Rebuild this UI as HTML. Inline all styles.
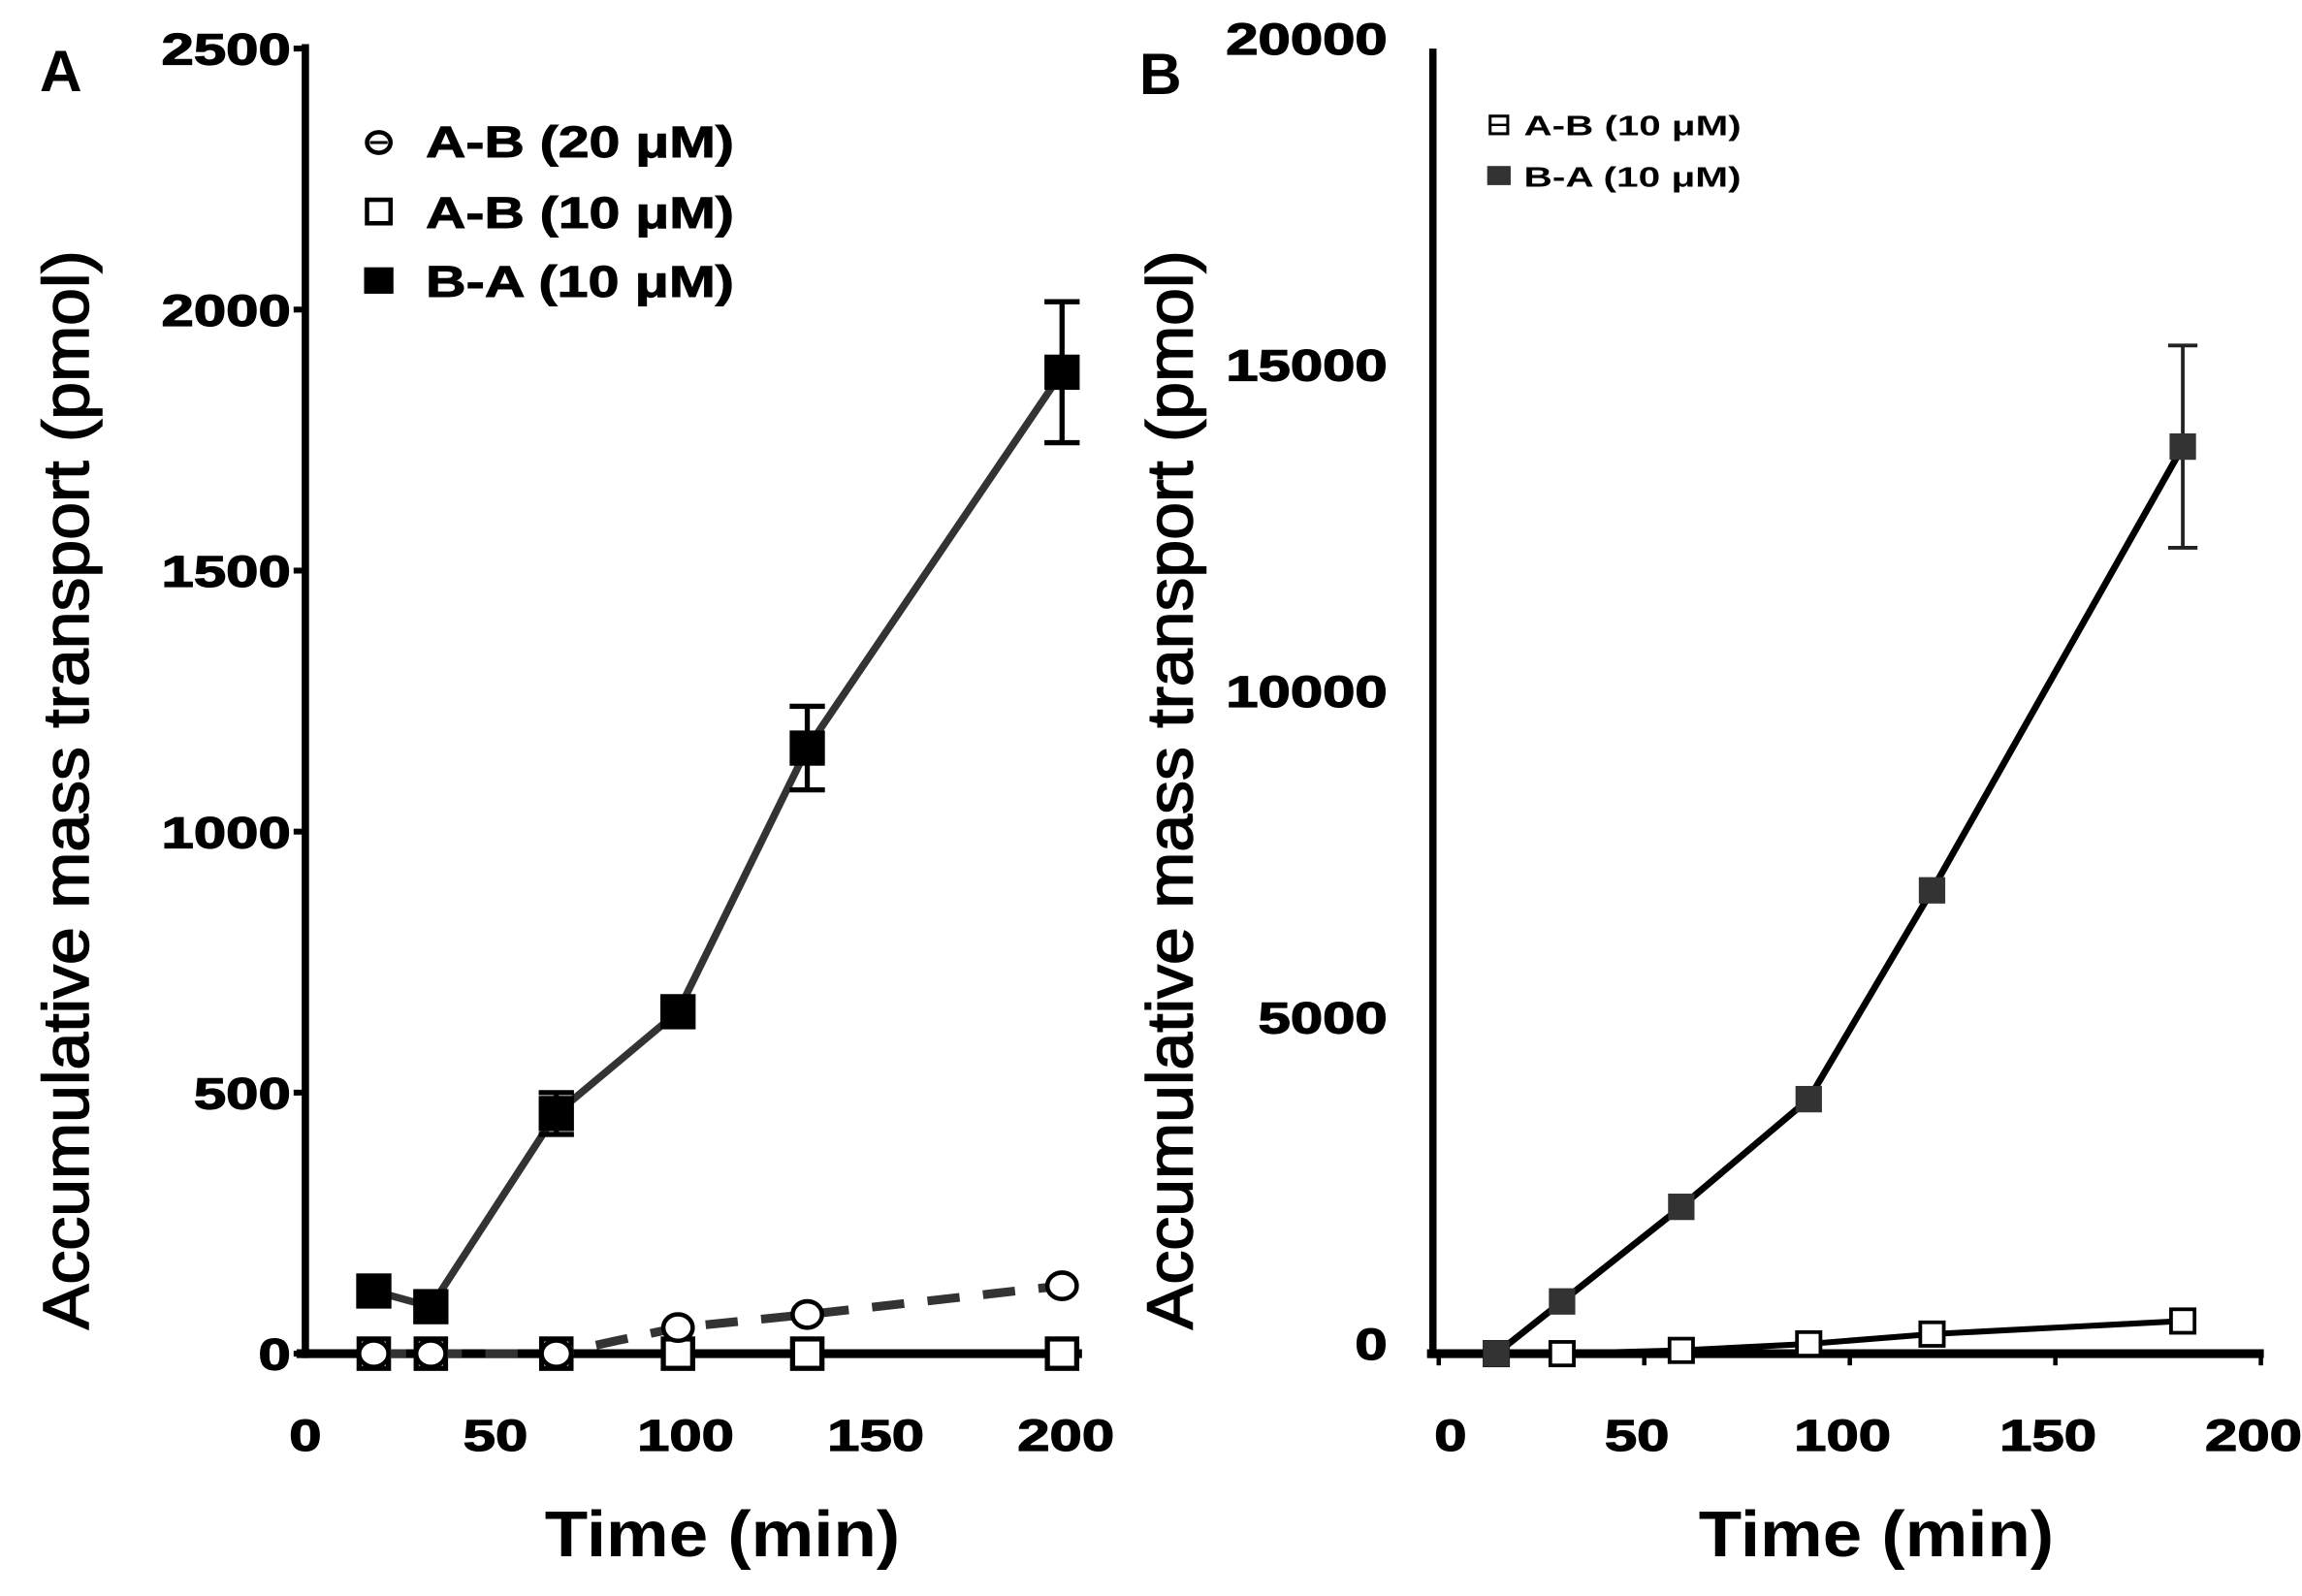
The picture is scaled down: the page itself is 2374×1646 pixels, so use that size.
<!DOCTYPE html>
<html><head><meta charset="utf-8"><style>
html,body{margin:0;padding:0;background:#fff;}
svg{display:block;}
text{font-family:"Liberation Sans",sans-serif;font-weight:bold;fill:#000;}
</style></head><body>
<svg id="chart" width="2374" height="1646" viewBox="0 0 1568 1087" xmlns="http://www.w3.org/2000/svg">
<g id="gA"></g>
<g id="gB"></g>
</svg>
<script>
// Panel A data
const timeA = [18, 33, 66, 98, 132, 199];
const baA = [120, 90, 460, 655, 1160, 1880];
const baErrA = [0, 0, 40, 0, 80, 135];
const ab20A = [0, 0, 0, 50, 75, 130];
const ab10A = [0, 0, 0, 0, 0, 0];
const yTicksA = [0, 500, 1000, 1500, 2000, 2500];
const xTicksA = [0, 50, 100, 150, 200];
// Panel B data
const timeB = [14, 30, 59, 90, 120, 181];
const baB = [0, 800, 2250, 3900, 7100, 13900];
const baErrB = [0, 0, 0, 0, 0, 1550];
const abB = [0, 0, 50, 150, 300, 500];
const yTicksB = [0, 5000, 10000, 15000, 20000];
const xTicksB = [0, 50, 100, 150, 200];

const NS = "http://www.w3.org/2000/svg";
function mk(parent, tag, attrs, txt){
  const e = document.createElementNS(NS, tag);
  for (const k in attrs) e.setAttribute(k, attrs[k]);
  if (txt !== undefined) e.textContent = txt;
  parent.appendChild(e); return e;
}
const xA = v => 208 + v * 2.59;
const yA = v => 922 - v * (889 / 2500);
const xB = v => 980 + v * 2.8;
const yB = v => 922 - v * (889 / 20000);
const tl = s => String(s).length * 22;

const gA = document.getElementById('gA');
const gB = document.getElementById('gB');

// ---------- Panel A ----------
let e;
e = mk(gA, 'text', {x: 27, y: 62, 'font-size': 40}, 'A');


yTicksA.forEach(t => {
  e = mk(gA, 'text', {x: 198 - tl(t), y: yA(t) + 11, 'font-size': 30, textLength: tl(t), lengthAdjust: 'spacingAndGlyphs', stroke: '#000', 'stroke-width': 0.8}, t);
  
  
  mk(gA, 'line', {x1: 200, x2: 208, y1: yA(t), y2: yA(t), stroke: '#000', 'stroke-width': 4});
});
xTicksA.forEach(t => {
  e = mk(gA, 'text', {x: xA(t) - tl(t)/2, y: 988, 'font-size': 30, textLength: tl(t), lengthAdjust: 'spacingAndGlyphs', stroke: '#000', 'stroke-width': 0.8}, t);
  
  
});
e = mk(gA, 'line', {x1: 208, x2: 208, y1: 30, y2: 925, stroke: '#000', 'stroke-width': 5});


e = mk(gA, 'line', {x1: 202, x2: 737, y1: 922, y2: 922, stroke: '#000', 'stroke-width': 6});


e = mk(gA, 'text', {x: 0, y: 0, 'font-size': 44, transform: 'translate(60,538) rotate(-90)', 'text-anchor': 'middle', textLength: 735, lengthAdjust: 'spacingAndGlyphs', stroke: '#000', 'stroke-width': 1, style: 'font-weight:normal'}, 'Accumulative mass transport (pmol)');


e = mk(gA, 'text', {x: 492, y: 1060, 'font-size': 44, 'text-anchor': 'middle', textLength: 242, lengthAdjust: 'spacingAndGlyphs'}, 'Time (min)');



e = mk(gA, 'polyline', {points: timeA.map((t,i)=>xA(t)+','+yA(ab10A[i])).join(' '), fill: 'none', stroke: '#000', 'stroke-width': 4});


timeA.forEach((t,i) => {
  e = mk(gA, 'rect', {x: xA(t)-10, y: yA(ab10A[i])-10, width: 20, height: 20, fill: '#fff', stroke: '#000', 'stroke-width': 3.5});
  
  
});
e = mk(gA, 'polyline', {points: timeA.map((t,i)=>xA(t)+','+yA(ab20A[i])).join(' '), fill: 'none', stroke: '#333', 'stroke-width': 6, 'stroke-dasharray': '22,16'});


timeA.forEach((t,i) => {
  e = mk(gA, 'ellipse', {cx: xA(t), cy: yA(ab20A[i]), rx: 10, ry: 9, fill: '#fff', stroke: '#000', 'stroke-width': 3});
  
  
});
e = mk(gA, 'polyline', {points: timeA.map((t,i)=>xA(t)+','+yA(baA[i])).join(' '), fill: 'none', stroke: '#333', 'stroke-width': 5});


timeA.forEach((t,i) => {
  if (baErrA[i] > 0) {
    const x = xA(t), y1 = yA(baA[i]+baErrA[i]), y2 = yA(baA[i]-baErrA[i]);
    e = mk(gA, 'path', {d: `M${x},${y1}V${y2}M${x-12},${y1}H${x+12}M${x-12},${y2}H${x+12}`, stroke: '#000', 'stroke-width': 3.5, fill: 'none'});
    
    
  }
  e = mk(gA, 'rect', {x: xA(t)-12, y: yA(baA[i])-12, width: 24, height: 24, fill: '#000'});
  
  
});
const legA = mk(gA, 'g', {});


mk(legA, 'ellipse', {cx: 258, cy: 97, rx: 8, ry: 7, fill: '#fff', stroke: '#000', 'stroke-width': 3});
mk(legA, 'line', {x1: 252, x2: 264, y1: 97, y2: 97, stroke: '#000', 'stroke-width': 2});
mk(legA, 'rect', {x: 250, y: 136, width: 16, height: 16, fill: '#fff', stroke: '#000', 'stroke-width': 3});
mk(legA, 'rect', {x: 248, y: 182, width: 20, height: 18, fill: '#000'});
[['A-B (20 μM)', 107], ['A-B (10 μM)', 155], ['B-A (10 μM)', 202]].forEach(([s, y]) => {
  e = mk(legA, 'text', {x: 290, y: y, 'font-size': 30, textLength: 210, lengthAdjust: 'spacingAndGlyphs', stroke: '#000', 'stroke-width': 0.6}, s);
  
  
});

// ---------- Panel B ----------
e = mk(gB, 'text', {x: 776, y: 64, 'font-size': 40}, 'B');


yTicksB.forEach(t => {
  e = mk(gB, 'text', {x: 945 - tl(t), y: yB(t) + 4, 'font-size': 30, textLength: tl(t), lengthAdjust: 'spacingAndGlyphs', stroke: '#000', 'stroke-width': 0.8}, t);
  
  
});
xTicksB.forEach(t => {
  e = mk(gB, 'text', {x: xB(t) + (t===0?8:-5) - tl(t)/2, y: 988, 'font-size': 30, textLength: tl(t), lengthAdjust: 'spacingAndGlyphs', stroke: '#000', 'stroke-width': 0.8}, t);
  
  
  mk(gB, 'line', {x1: xB(t), x2: xB(t), y1: 922, y2: 930, stroke: '#000', 'stroke-width': 3});
});
e = mk(gB, 'line', {x1: 976, x2: 976, y1: 33, y2: 925, stroke: '#000', 'stroke-width': 5});


e = mk(gB, 'line', {x1: 972, x2: 1542, y1: 922, y2: 922, stroke: '#000', 'stroke-width': 6});


e = mk(gB, 'text', {x: 0, y: 0, 'font-size': 44, transform: 'translate(812,538) rotate(-90)', 'text-anchor': 'middle', textLength: 735, lengthAdjust: 'spacingAndGlyphs', stroke: '#000', 'stroke-width': 1, style: 'font-weight:normal'}, 'Accumulative mass transport (pmol)');


e = mk(gB, 'text', {x: 1278, y: 1060, 'font-size': 44, 'text-anchor': 'middle', textLength: 242, lengthAdjust: 'spacingAndGlyphs'}, 'Time (min)');



e = mk(gB, 'polyline', {points: timeB.map((t,i)=>xB(t)+','+yB(abB[i])).join(' '), fill: 'none', stroke: '#000', 'stroke-width': 4});


timeB.forEach((t,i) => {
  e = mk(gB, 'rect', {x: xB(t)-8, y: yB(abB[i])-8, width: 16, height: 16, fill: '#fff', stroke: '#000', 'stroke-width': 2.5});
  
  
});
e = mk(gB, 'polyline', {points: timeB.map((t,i)=>xB(t)+','+yB(baB[i])).join(' '), fill: 'none', stroke: '#000', 'stroke-width': 4.5});


timeB.forEach((t,i) => {
  if (baErrB[i] > 0) {
    const x = xB(t), y1 = yB(baB[i]+baErrB[i]), y2 = yB(baB[i]-baErrB[i]);
    e = mk(gB, 'path', {d: `M${x},${y1}V${y2}M${x-10},${y1}H${x+10}M${x-10},${y2}H${x+10}`, stroke: '#222', 'stroke-width': 2.5, fill: 'none'});
    
    
  }
  e = mk(gB, 'rect', {x: xB(t)-9, y: yB(baB[i])-9, width: 18, height: 18, fill: '#333'});
  
  
});
const legB = mk(gB, 'g', {});


mk(legB, 'rect', {x: 1015, y: 79, width: 12, height: 12, fill: '#fff', stroke: '#000', 'stroke-width': 2});
mk(legB, 'line', {x1: 1015, x2: 1027, y1: 85, y2: 85, stroke: '#000', 'stroke-width': 1.5});
mk(legB, 'rect', {x: 1013, y: 113, width: 16, height: 13, fill: '#333'});
[['A-B (10 μM)', 92], ['B-A (10 μM)', 127]].forEach(([s, y]) => {
  e = mk(legB, 'text', {x: 1038, y: y, 'font-size': 19, textLength: 148, lengthAdjust: 'spacingAndGlyphs'}, s);
  
  
});
</script>
</body></html>
